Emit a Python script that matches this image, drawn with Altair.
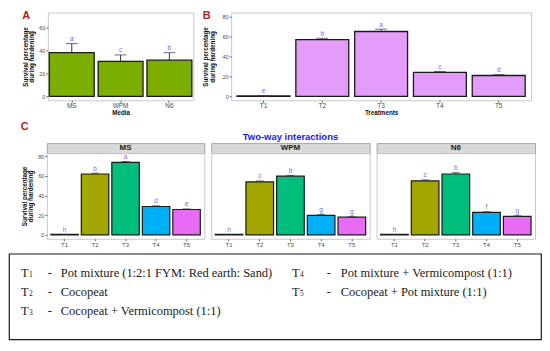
import altair as alt
import pandas as pd

# ---------------- data ----------------
media = ["MS", "WPM", "N6"]
media_mean = [38.3, 30.6, 31.7]
media_se = [8.0, 5.7, 6.6]
media_letter = ["a", "c", "b"]

treatments = ["T1", "T2", "T3", "T4", "T5"]
trt_mean = [0.5, 56.8, 65.0, 24.0, 20.9]
trt_se = [0.0, 1.4, 2.3, 1.0, 0.9]
trt_letter = ["e", "b", "a", "c", "d"]

ms_mean = [0.5, 61.8, 73.5, 28.8, 25.8]
ms_se = [0.0, 0.8, 0.9, 0.7, 0.6]
ms_letter = ["h", "b", "a", "d", "e"]

wpm_mean = [0.5, 53.8, 59.6, 19.8, 18.0]
wpm_se = [0.0, 0.9, 0.8, 0.7, 0.6]
wpm_letter = ["h", "c", "b", "g", "g"]

n6_mean = [0.5, 54.8, 61.8, 22.8, 18.8]
n6_se = [0.0, 1.0, 1.3, 0.7, 0.6]
n6_letter = ["h", "c", "b", "f", "g"]

trt_colors = ["#F8766D", "#A3A500", "#00BF7D", "#00B0F6", "#E76BF3"]

legend_letter = ["T", "T", "T", "T", "T"]
legend_digit = ["1", "2", "3", "4", "5"]
legend_desc = [
    "Pot mixture (1:2:1 FYM: Red earth: Sand)",
    "Cocopeat",
    "Cocopeat + Vermicompost (1:1)",
    "Pot mixture + Vermicompost (1:1)",
    "Cocopeat + Pot mixture (1:1)",
]
legend_col = [1, 1, 1, 2, 2]
legend_row = [1, 2, 3, 1, 2]

SANS = "Liberation Sans"
SERIF = "Liberation Serif"
LETTER_COLOR = "#6E6EF0"
RED = "#B22222"
YTITLE = ["Survival percentage", "during hardening"]


def make_df(cats, means, ses, letters):
    df = pd.DataFrame({"cat": cats, "mean": means, "se": ses, "letter": letters})
    df["top"] = df["mean"] + df["se"]
    return df


def panel(df, order, width, height, domain, ticks, color, xtitle, show_y,
          cap, pin, pout, sw, title_pad=4, xlab=6.5):
    def X():
        return alt.X(
            "cat:N", sort=order, title=xtitle,
            scale=alt.Scale(domain=order, paddingInner=pin, paddingOuter=pout),
            axis=alt.Axis(labelAngle=0, titlePadding=0, labelFontSize=xlab,
                          labelPadding=0.5),
        )

    def Y(field):
        yaxis = (alt.Axis(values=ticks, title=YTITLE, titlePadding=title_pad,
                          titleLineHeight=6.5, labelOverlap=False)
                 if show_y else None)
        return alt.Y(field, scale=alt.Scale(domain=domain, nice=False, zero=False),
                     axis=yaxis, title=YTITLE)

    base = alt.Chart(df)
    bars = base.mark_bar(stroke="#1A1A1A", strokeWidth=sw).encode(
        x=X(), y=Y("mean:Q"), color=color
    )
    rule = base.mark_rule(color="#333333", strokeWidth=1).encode(
        x=X(), y=Y("mean:Q"), y2="top:Q"
    )
    capm = base.mark_tick(orient="horizontal", size=cap, thickness=1,
                          color="#333333").encode(x=X(), y=Y("top:Q"))
    txt = base.mark_text(color=LETTER_COLOR, fontSize=6.5, dy=-1.5,
                         baseline="bottom", font=SANS).encode(
        x=X(), y=Y("top:Q"), text="letter:N"
    )
    return alt.layer(bars, rule, capm, txt).properties(width=width, height=height)


def strip(name, width):
    return alt.Chart(pd.DataFrame({"m": [name]})).mark_text(
        font=SANS, fontWeight="bold", fontSize=8, color="#1A1A1A"
    ).encode(
        x=alt.X("m:N", axis=None), text="m:N"
    ).properties(width=width, height=10,
                 view=alt.ViewBackground(fill="#D9D9D9", stroke="#A6A6A6"))


def spacer(width):
    # invisible first cell: anchors the row origin at the left edge of the figure
    return alt.Chart(pd.DataFrame({"v": [0]})).mark_point(opacity=0, size=1).encode(
        x=alt.X("v:Q", axis=None, scale=alt.Scale(domain=[-1, 1])),
        y=alt.Y("v:Q", axis=None, scale=alt.Scale(domain=[-1, 1])),
    ).properties(width=width, height=1, view=alt.ViewBackground(strokeOpacity=0))


def ttl(t, size=11, offset=-8, color=RED, anchor="start"):
    return alt.TitleParams(t, anchor=anchor, frame="bounds", fontSize=size,
                           color=color, font=SANS, fontWeight="bold", offset=offset)


# ---------------- row 1 ----------------
pA = panel(make_df(media, media_mean, media_se, media_letter), media, 146, 88,
           [-3.5, 73.5], [0, 20, 40, 60], alt.value("#7CAE00"), "Media", True,
           12, 0.08, 0.03, 1.3).properties(title=ttl("A"))
pB = panel(make_df(treatments, trt_mean, trt_se, trt_letter), treatments, 301, 88,
           [-3.9, 83.9], [0, 20, 40, 60, 80], alt.value("#E39CFA"), "Treatments",
           True, 12, 0.1, 0.1, 1.3, title_pad=7).properties(title=ttl("B"))
row1 = alt.hconcat(spacer(5), pA, pB, spacing=7)

# ---------------- row 2 ----------------
ccolor = alt.Color("cat:N", scale=alt.Scale(domain=treatments, range=trt_colors),
                   legend=None)
cdom = [-3.9, 83.0]
cticks = [0, 20, 40, 60, 80]


def ccol(name, means, ses, letters, width, show_y, title):
    p = panel(make_df(treatments, means, ses, letters), treatments, width, 86,
              cdom, cticks, ccolor, None, show_y, 8, 0.1, 0.13, 1.2, xlab=6)
    col = alt.vconcat(strip(name, width), p, spacing=0, bounds="flush")
    return col.properties(title=title) if title is not None else col


title_c = alt.TitleParams(
    "C", subtitle="\u00a0", anchor="start", frame="bounds", fontSize=11,
    color=RED, font=SANS, fontWeight="bold", subtitleFontSize=9.5,
    subtitlePadding=0, offset=1)
title_tw = alt.TitleParams(
    "\u00a0", subtitle="Two-way interactions", anchor="middle", frame="bounds",
    fontSize=11, font=SANS, subtitleFont=SANS, subtitleFontSize=9.5,
    subtitleFontWeight="bold", subtitleColor="#1A1AE6", subtitlePadding=0, offset=1)

col_ms = ccol("MS", ms_mean, ms_se, ms_letter, 158, True, title_c)
col_wpm = ccol("WPM", wpm_mean, wpm_se, wpm_letter, 159, False, title_tw)
col_n6 = ccol("N6", n6_mean, n6_se, n6_letter, 159, False, None)
row2 = alt.hconcat(spacer(6), col_ms, col_wpm, col_n6, spacing=5)

# ---------------- legend box ----------------
ldf = pd.DataFrame({"t": legend_letter, "d": legend_digit, "desc": legend_desc,
                    "col": legend_col, "row": legend_row})
LW, LH = 534, 86
# column 1 -> 12 px, column 2 -> 284 px ; row 1 -> 19 px, step 19.5 px
lx = alt.X("col:Q", axis=None,
           scale=alt.Scale(domain=[1 - 12 / 272, 1 + (LW - 12) / 272], nice=False, zero=False))
ly = alt.Y("row:Q", axis=None,
           scale=alt.Scale(domain=[1 - 19 / 19.5, 1 + (LH - 19) / 19.5], reverse=True,
                           nice=False, zero=False))
lbase = alt.Chart(ldf)
tstyle = dict(font=SERIF, color="#1A1A1A", align="left", baseline="middle")
layers = []
for c, ddash, ddesc in [(1, 27, 40), (2, 35, 49)]:
    sub = lbase.transform_filter(alt.datum.col == c)
    layers.append(sub.mark_text(fontSize=12.5, **tstyle).encode(x=lx, y=ly, text="t:N"))
    layers.append(sub.mark_text(fontSize=7.5, dx=8, dy=2, **tstyle).encode(
        x=lx, y=ly, text="d:N"))
    layers.append(sub.mark_text(fontSize=12.5, dx=ddash, **tstyle).encode(
        x=lx, y=ly, text=alt.value("-")))
    layers.append(sub.mark_text(fontSize=12.5, dx=ddesc, **tstyle).encode(
        x=lx, y=ly, text="desc:N"))
legend = alt.layer(*layers).properties(
    width=LW, height=LH,
    view=alt.ViewBackground(stroke="#1A1A1A", strokeWidth=1.2, fill="white"))

chart = alt.vconcat(row1, row2, legend, spacing=5).properties(
    padding=0, background="white"
).configure_view(stroke="#C9C9C9").configure_axis(
    labelFont=SANS, titleFont=SANS, labelFontSize=5.5, labelColor="#4D4D4D",
    titleFontSize=6.3, titleFontWeight="bold", titleColor="#111111",
    tickColor="#666666", tickSize=2, domain=False, grid=False, labelPadding=1,
    labelOverlap=False, labelBound=False
)

chart.save("out.html", embed_options={"renderer": "svg", "actions": False})
